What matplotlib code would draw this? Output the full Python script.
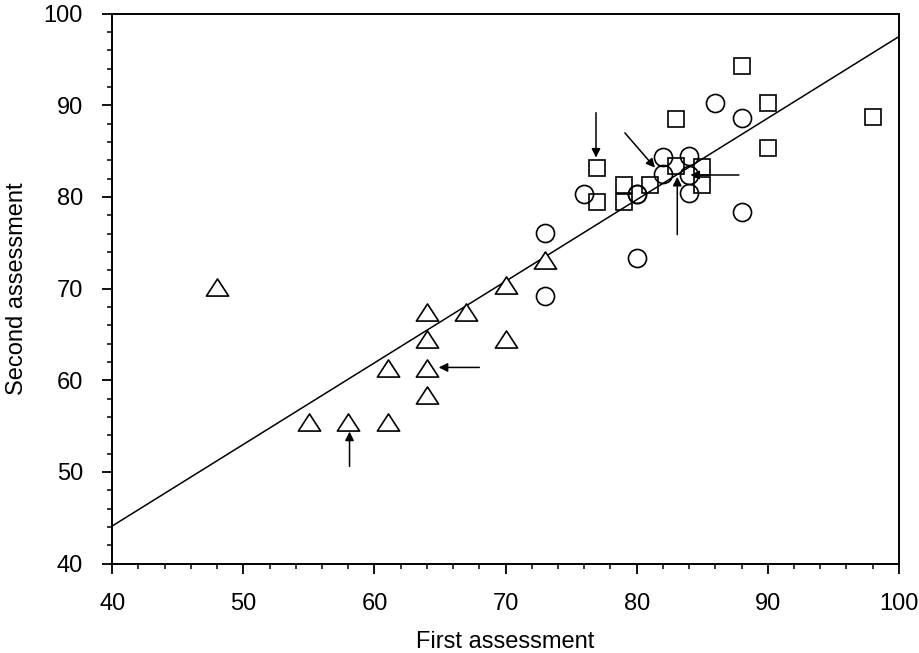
import matplotlib.pyplot as plt
from matplotlib.path import Path

plt.rcParams['font.family'] = ['Liberation Sans', 'DejaVu Sans']

# 三角形：第一组
tri_x = [48, 55, 58, 61, 61, 64, 64, 64, 64, 67, 70, 70, 73]
tri_y = [70.2, 55.4, 55.4, 55.4, 61.3, 58.4, 61.3, 64.5, 67.4, 67.4, 64.5, 70.4, 73.1]

# 圆形：第二组
circ_x = [73, 73, 76, 80, 80, 80, 82, 82, 84, 84, 84, 86, 88, 88]
circ_y = [76.1, 69.2, 80.3, 80.3, 73.3, 80.3, 84.4, 82.5, 84.5, 82.4, 80.4, 90.3, 88.6, 78.4]

# 方形：第三组
sq_x = [77, 77, 79, 79, 81, 83, 83, 85, 85, 88, 90, 90, 98]
sq_y = [83.2, 79.4, 81.3, 79.4, 81.3, 88.5, 83.4, 83.3, 81.3, 94.3, 90.3, 85.4, 88.7]

# 回归线两端
line_x = [40, 100]
line_y = [44.1, 97.5]

# 箭头：(起点x, 起点y, 终点x, 终点y)
arrows = [
    (76.9, 89.2, 76.9, 84.3),
    (79.1, 87.0, 81.4, 83.2),
    (87.8, 82.4, 84.1, 82.4),
    (83.1, 75.9, 83.1, 82.2),
    (68.0, 61.4, 64.9, 61.4),
    (58.1, 50.6, 58.1, 54.4),
]

# 压扁的三角形标记
tri_marker = Path([(-1, -0.77), (1, -0.77), (0, 0.77), (-1, -0.77)],
                  [Path.MOVETO, Path.LINETO, Path.LINETO, Path.CLOSEPOLY])

fig = plt.figure(figsize=(9.2, 6.53), dpi=100)
ax = fig.add_axes([0.122, 0.137, 0.855, 0.842])

ax.plot(line_x, line_y, color='black', lw=1.1, zorder=1)

ax.plot(tri_x, tri_y, linestyle='none', marker=tri_marker, markersize=16,
        mfc='white', mec='black', mew=1.2, zorder=2)
ax.plot(circ_x, circ_y, linestyle='none', marker='o', markersize=13,
        mfc='none', mec='black', mew=1.2, zorder=2)
ax.plot(sq_x, sq_y, linestyle='none', marker='s', markersize=12,
        mfc='none', mec='black', mew=1.2, zorder=2)

for x0, y0, x1, y1 in arrows:
    ax.annotate('', xy=(x1, y1), xytext=(x0, y0),
                arrowprops=dict(arrowstyle='-|>', color='black', lw=1.1,
                                mutation_scale=13, shrinkA=0, shrinkB=0))

ax.set_xlim(40, 100)
ax.set_ylim(40, 100)
ax.set_xticks(range(40, 101, 10))
ax.set_yticks(range(40, 101, 10))
ax.set_xticks(range(40, 101, 2), minor=True)
ax.set_yticks(range(40, 101, 2), minor=True)
ax.tick_params(which='major', direction='out', length=7, width=1.3,
               labelsize=17, pad=14, top=False, right=False)
ax.tick_params(which='minor', direction='out', length=3.5, width=1.1,
               top=False, right=False)
for s in ax.spines.values():
    s.set_linewidth(1.4)

ax.set_xlabel('First assessment', fontsize=17, labelpad=12)
ax.set_ylabel('Second assessment', fontsize=17, labelpad=11)

plt.savefig('out.png', dpi=100)
